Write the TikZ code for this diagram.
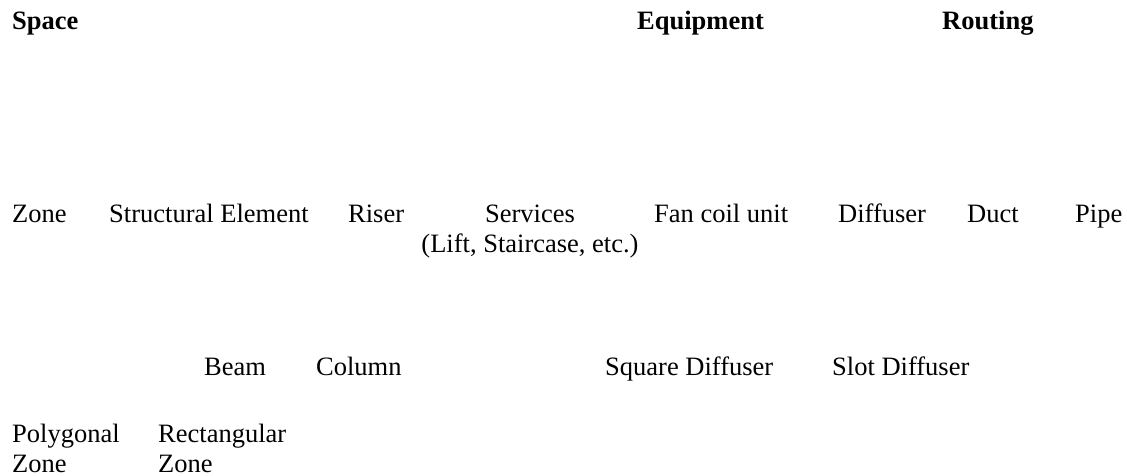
\documentclass[tikz,border=0pt]{standalone}
\usepackage{fontspec}
\setmainfont{Liberation Serif}
\begin{document}
\begin{tikzpicture}[x=1pt,y=-1pt,
  lbl/.style={inner sep=0pt,anchor=base west,font=\fontsize{26.5}{30}\selectfont},
  head/.style={lbl,font=\fontsize{26.5}{30}\selectfont\bfseries}]
\useasboundingbox (0,0) rectangle (1127,476);
% category headings
\node[head] (space) at (12,30) {Space};
\node[head] (equip) at (637,30) {Equipment};
\node[head] (rout)  at (942,30) {Routing};
% second level (multi-line nodes sit on the baseline of their last line)
\node[lbl] (zone)   at (12,222)  {Zone};
\node[lbl] (struct) at (109,222) {Structural Element};
\node[lbl] (riser)  at (348,222) {Riser};
\node[lbl,anchor=base,align=center] (serv) at (530,252) {Services\\(Lift, Staircase, etc.)};
\node[lbl] (fcu)    at (654,222) {Fan coil unit};
\node[lbl] (diff)   at (838,222) {Diffuser};
\node[lbl] (duct)   at (967,222) {Duct};
\node[lbl] (pipe)   at (1075,222) {Pipe};
% third level
\node[lbl] (beam)   at (204,375) {Beam};
\node[lbl] (column) at (316,375) {Column};
\node[lbl] (sqd)    at (605,375) {Square Diffuser};
\node[lbl] (slotd)  at (832,375) {Slot Diffuser};
% zone types
\node[lbl,align=left] (poly) at (12,472)  {Polygonal\\Zone};
\node[lbl,align=left] (rect) at (158,472) {Rectangular\\Zone};
\end{tikzpicture}
\end{document}
